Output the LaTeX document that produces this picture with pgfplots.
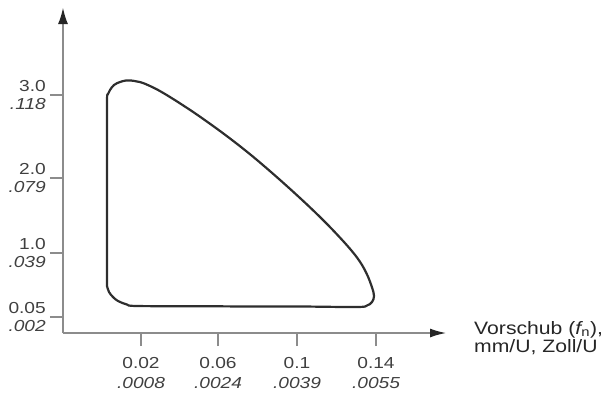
\documentclass[border=0pt]{standalone}
\usepackage{fontspec}
\setmainfont{Liberation Sans}
\usepackage{pgfplots}
\pgfplotsset{compat=1.18}
\usetikzlibrary{arrows.meta}
\definecolor{axisgray}{gray}{0.55}
\definecolor{curvegray}{gray}{0.18}
\definecolor{labelgray}{gray}{0.25}
\begin{document}
\begin{tikzpicture}
\begin{axis}[
  x=1bp, y=1bp,
  xmin=63, xmax=447, ymin=59, ymax=385,
  axis x line=bottom, axis y line=left,
  axis line style={draw=axisgray, line width=2.4bp},
  x axis line style={-{Latex[length=17bp,width=9bp,color=black!85]}},
  y axis line style={-{Latex[length=17bp,width=10bp,color=black!85]}},
  clip=false,
  tick align=outside,
  major tick length=13bp,
  tick style={draw=axisgray, line width=2bp},
  xtick={141,218,297,376},
  xticklabels={{0.02\\\textit{.0008}},{0.06\\\textit{.0024}},{0.1\\\textit{.0039}},{0.14\\\textit{.0055}}},
  ytick={75,139,214,297},
  yticklabels={{0.05\\\textit{.002}},{1.0\\\textit{.039}},{2.0\\\textit{.079}},{3.0\\\textit{.118}}},
  xticklabel style={align=center, font=\fontsize{16}{20}\selectfont, text=labelgray, xscale=1.2, yshift=-8bp},
  yticklabel style={align=right, font=\fontsize{16}{18}\selectfont, text=labelgray, xscale=1.2},
  xlabel={Vorschub ({\itshape f}\textsubscript{n}),\\mm/U, Zoll/U},
  xlabel style={at={(axis cs:474,54)}, anchor=west, align=left, inner sep=0pt,
    font=\fontsize{18}{18}\selectfont, text=black!85, xscale=1.18},
]
\addplot[curvegray, line width=2.2bp, smooth, tension=0.6] coordinates {
(107,106) (107,150) (107,200) (107,250) (107,292) (108,298) (110,302) (114,307) (120,310)
(126,311.5) (131,311.5) (137,310.5) (143,309) (155,303.6) (167,296.8) (183,286.7)
(200,275.3) (225,257.3) (250,237.8) (275,216.5) (300,194) (320,175) (335,159.7) (350,143.2)
(360,130.2) (367,117.6) (372,104.6) (374,96) (372,90) (367,86.5) (357,85)
(300,85.5) (250,85.5) (200,85.8) (137,86) (127,87.5) (118,91) (113,95) (109,100) (107,106)
};
\coordinate (BL) at (axis cs:0,0);
\coordinate (TR) at (axis cs:603,392);
\end{axis}
\pgfresetboundingbox
\useasboundingbox (BL) rectangle (TR);
\end{tikzpicture}
\end{document}
